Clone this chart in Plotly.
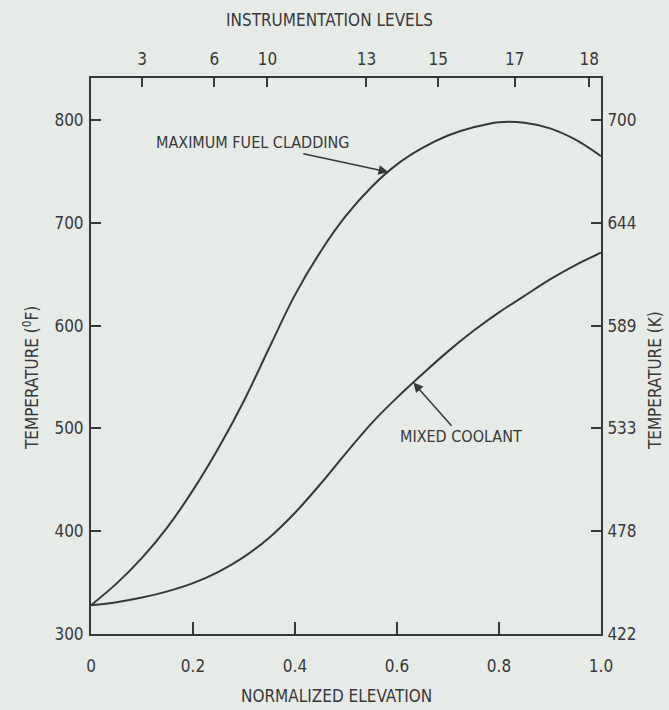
import numpy as np
import plotly.graph_objects as go

# ---- data ----
elevation = [0.0, 0.05, 0.1, 0.15, 0.2, 0.25, 0.3, 0.35, 0.4, 0.45, 0.5,
             0.55, 0.6, 0.65, 0.7, 0.75, 0.8, 0.85, 0.9, 0.95, 1.0]
fuel_cladding_F = [328, 349, 374, 404, 440, 481, 527, 579, 630, 672, 707,
                   735, 757, 773, 785, 793, 798, 797.5, 792, 781, 765]
mixed_coolant_F = [328, 331, 335.5, 341.5, 349.5, 360.5, 375, 394, 418, 446, 476,
                   505, 530, 553, 575, 595, 613, 629, 645, 659, 671]

level_positions = [0.100, 0.242, 0.346, 0.540, 0.681, 0.831, 0.977]
level_labels = ["3", "6", "10", "13", "15", "17", "18"]

x_ticks = [0, 0.2, 0.4, 0.6, 0.8, 1.0]
x_tick_labels = ["0", "0.2", "0.4", "0.6", "0.8", "1.0"]
f_ticks = [300, 400, 500, 600, 700, 800]
k_tick_labels = [str(int(round((f - 32) * 5 / 9 + 273.15))) for f in f_ticks]

FONT = "Liberation Sans Narrow, DejaVu Sans Condensed, Arial Narrow, sans-serif"
INK = "#383838"
BG = "#e7ebe8"
Y_RANGE = [300, 841]

fig = go.Figure()
fig.add_trace(go.Scatter(x=elevation, y=fuel_cladding_F, mode="lines",
                         line=dict(color=INK, width=2, shape="spline"),
                         showlegend=False, hoverinfo="skip"))
fig.add_trace(go.Scatter(x=elevation, y=mixed_coolant_F, mode="lines",
                         line=dict(color=INK, width=2, shape="spline"),
                         showlegend=False, hoverinfo="skip"))
# invisible traces to activate the secondary axes
fig.add_trace(go.Scatter(x=[0, 1], y=[None, None], xaxis="x2", yaxis="y",
                         mode="lines", showlegend=False, hoverinfo="skip"))
fig.add_trace(go.Scatter(x=[None, None], y=Y_RANGE, xaxis="x", yaxis="y2",
                         mode="lines", showlegend=False, hoverinfo="skip"))

axis_common = dict(showgrid=False, zeroline=False, showline=True,
                   linecolor=INK, linewidth=2, ticks="inside",
                   tickcolor=INK, tickwidth=1.5,
                   tickfont=dict(family=FONT, size=17, color=INK))

fig.update_layout(
    width=669, height=710,
    margin=dict(l=91, r=68, t=78, b=76),
    paper_bgcolor=BG, plot_bgcolor=BG,
    font=dict(family=FONT, color=INK),
    xaxis=dict(range=[0, 1], tickvals=x_ticks, ticktext=x_tick_labels,
               ticklen=12, ticklabelstandoff=16, **axis_common),
    xaxis2=dict(range=[0, 1], overlaying="x", side="top",
                tickvals=level_positions, ticktext=level_labels,
                ticklen=9, ticklabelstandoff=4, **axis_common),
    yaxis=dict(range=Y_RANGE, tickvals=f_ticks,
               ticktext=[str(v) for v in f_ticks],
               ticklen=10, ticklabelstandoff=2, **axis_common),
    yaxis2=dict(range=Y_RANGE, overlaying="y", side="right",
                tickvals=f_ticks, ticktext=k_tick_labels,
                ticklen=10, ticklabelstandoff=1, **axis_common),
)

title_font = dict(family=FONT, size=17, color=INK)
fig.add_annotation(text="INSTRUMENTATION LEVELS", xref="paper", yref="paper",
                   x=0.468, y=1.104, showarrow=False, font=title_font,
                   xanchor="center", yanchor="middle")
fig.add_annotation(text="NORMALIZED ELEVATION", xref="paper", yref="paper",
                   x=0.482, y=-0.112, showarrow=False, font=title_font,
                   xanchor="center", yanchor="middle")
fig.add_annotation(text="TEMPERATURE (<sup>0</sup>F)", xref="paper", yref="paper",
                   x=-0.118, y=0.46, showarrow=False, font=title_font,
                   textangle=-90, xanchor="center", yanchor="middle")
fig.add_annotation(text="TEMPERATURE (K)", xref="paper", yref="paper",
                   x=1.106, y=0.455, showarrow=False, font=title_font,
                   textangle=-90, xanchor="center", yanchor="middle")

# curve labels with arrows pointing at the curves
label_font = dict(family=FONT, size=16, color=INK)
tip_c = 0.583
fig.add_annotation(text="MAXIMUM FUEL CLADDING",
                   x=tip_c, y=float(np.interp(tip_c, elevation, fuel_cladding_F)),
                   ax=0.316, ay=778, axref="x", ayref="y",
                   showarrow=True, arrowhead=2, arrowsize=1.3, arrowwidth=1.5,
                   arrowcolor=INK, standoff=0, font=label_font)
tip_m = 0.632
fig.add_annotation(text="MIXED COOLANT",
                   x=tip_m, y=float(np.interp(tip_m, elevation, mixed_coolant_F)),
                   ax=0.726, ay=492, axref="x", ayref="y",
                   showarrow=True, arrowhead=2, arrowsize=1.3, arrowwidth=1.5,
                   arrowcolor=INK, standoff=0, font=label_font)

fig.write_html(
    "out.html",
    config={"displayModeBar": False},
    post_script="document.body.style.margin='0';"
                "document.documentElement.style.overflow='hidden';",
)
